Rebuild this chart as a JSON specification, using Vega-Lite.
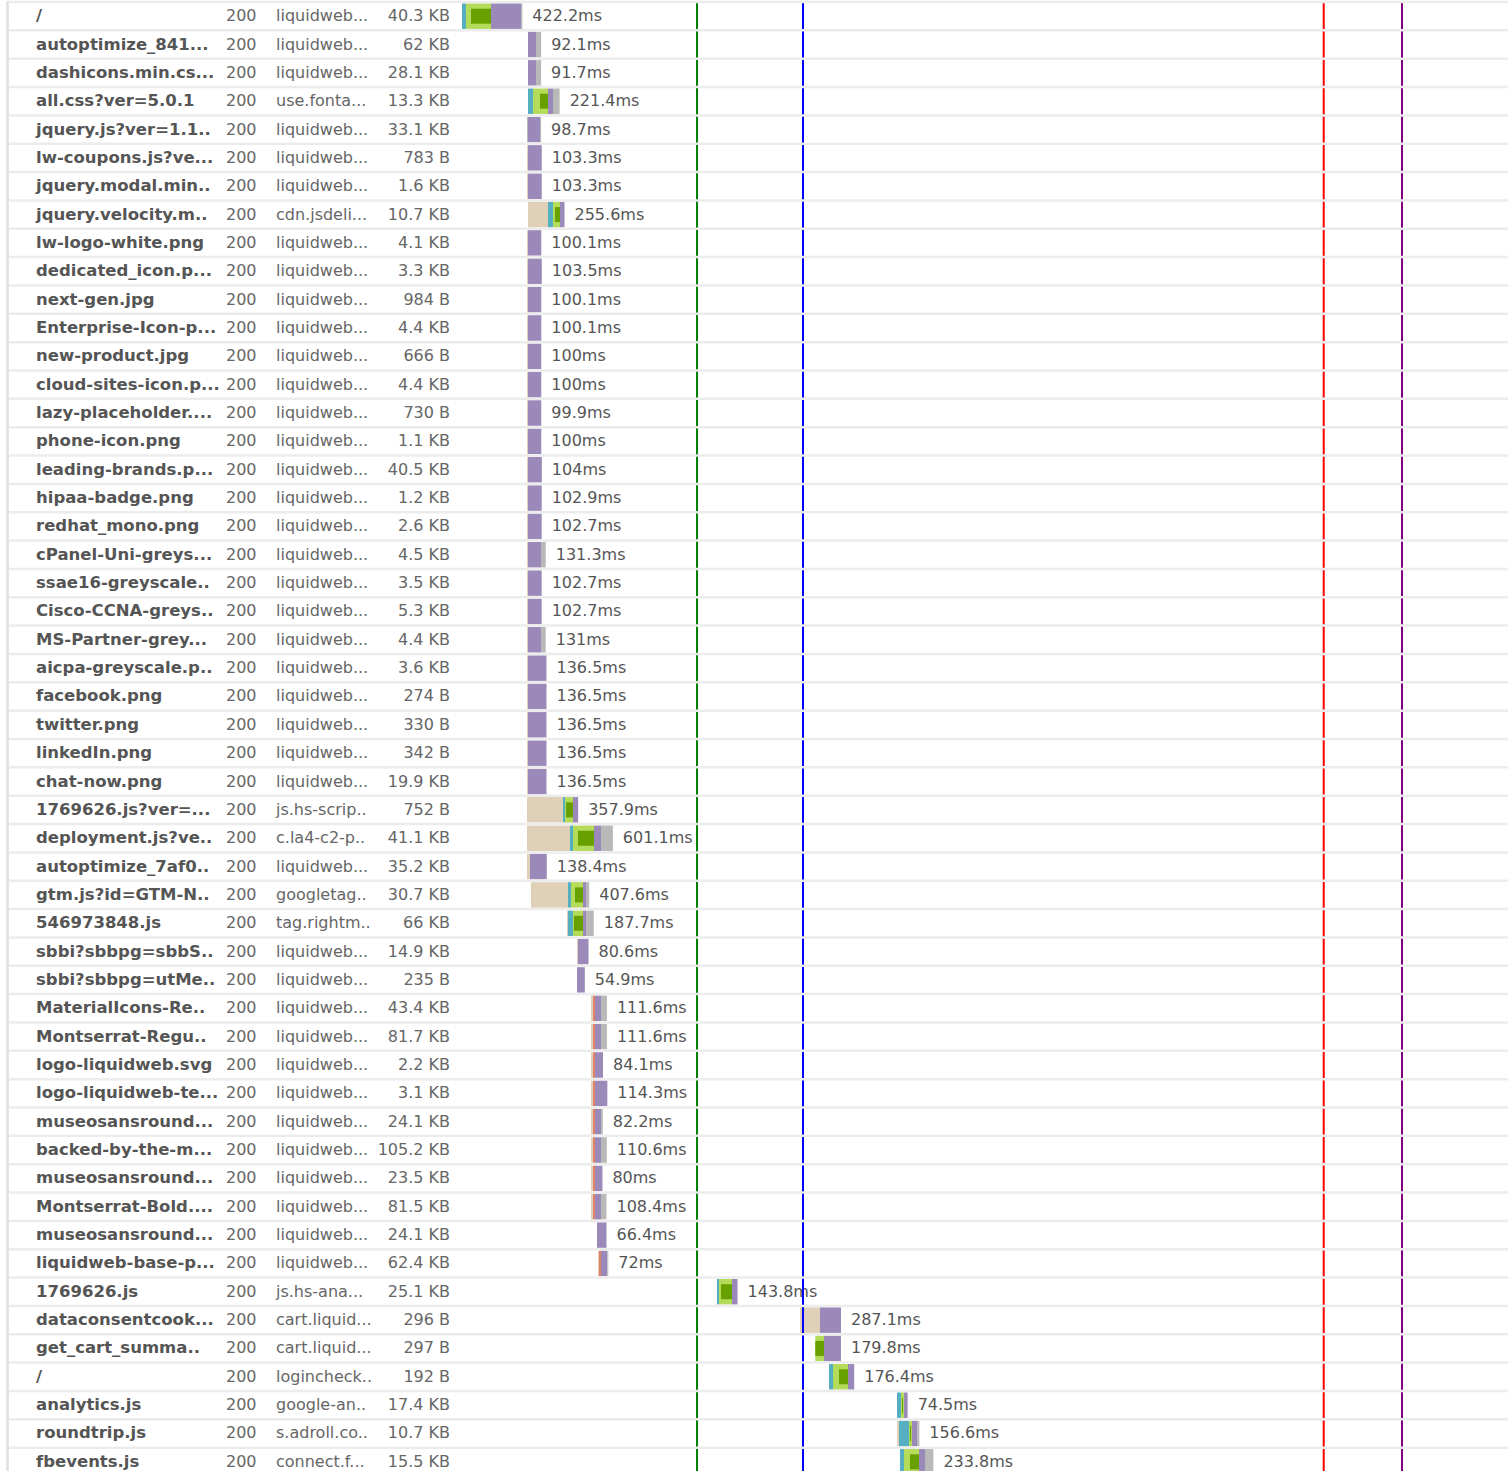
{
  "$schema": "https://vega.github.io/schema/vega-lite/v6.json",
  "padding": {"left": 4, "top": 0, "right": 0, "bottom": 0},
  "background": "white",
  "spacing": 0,
  "bounds": "flush",
  "config": {"view": {"stroke": null}, "text": {"font": "DejaVu Sans"}},
  "datasets": {
    "requests": [
      {"row":1,"name":"/","status":"200","domain":"liquidweb...","size":"40.3 KB","end":422.2,"label":"422.2ms"},
      {"row":2,"name":"autoptimize_841...","status":"200","domain":"liquidweb...","size":"62 KB","end":554.1,"label":"92.1ms"},
      {"row":3,"name":"dashicons.min.cs...","status":"200","domain":"liquidweb...","size":"28.1 KB","end":553.7,"label":"91.7ms"},
      {"row":4,"name":"all.css?ver=5.0.1","status":"200","domain":"use.fonta...","size":"13.3 KB","end":683.4,"label":"221.4ms"},
      {"row":5,"name":"jquery.js?ver=1.1..","status":"200","domain":"liquidweb...","size":"33.1 KB","end":553.7,"label":"98.7ms"},
      {"row":6,"name":"lw-coupons.js?ve...","status":"200","domain":"liquidweb...","size":"783 B","end":558.3,"label":"103.3ms"},
      {"row":7,"name":"jquery.modal.min..","status":"200","domain":"liquidweb...","size":"1.6 KB","end":558.3,"label":"103.3ms"},
      {"row":8,"name":"jquery.velocity.m..","status":"200","domain":"cdn.jsdeli...","size":"10.7 KB","end":717.6,"label":"255.6ms"},
      {"row":9,"name":"lw-logo-white.png","status":"200","domain":"liquidweb...","size":"4.1 KB","end":555.1,"label":"100.1ms"},
      {"row":10,"name":"dedicated_icon.p...","status":"200","domain":"liquidweb...","size":"3.3 KB","end":558.5,"label":"103.5ms"},
      {"row":11,"name":"next-gen.jpg","status":"200","domain":"liquidweb...","size":"984 B","end":555.1,"label":"100.1ms"},
      {"row":12,"name":"Enterprise-Icon-p...","status":"200","domain":"liquidweb...","size":"4.4 KB","end":555.1,"label":"100.1ms"},
      {"row":13,"name":"new-product.jpg","status":"200","domain":"liquidweb...","size":"666 B","end":555,"label":"100ms"},
      {"row":14,"name":"cloud-sites-icon.p...","status":"200","domain":"liquidweb...","size":"4.4 KB","end":555,"label":"100ms"},
      {"row":15,"name":"lazy-placeholder....","status":"200","domain":"liquidweb...","size":"730 B","end":554.9,"label":"99.9ms"},
      {"row":16,"name":"phone-icon.png","status":"200","domain":"liquidweb...","size":"1.1 KB","end":555,"label":"100ms"},
      {"row":17,"name":"leading-brands.p...","status":"200","domain":"liquidweb...","size":"40.5 KB","end":559,"label":"104ms"},
      {"row":18,"name":"hipaa-badge.png","status":"200","domain":"liquidweb...","size":"1.2 KB","end":557.9,"label":"102.9ms"},
      {"row":19,"name":"redhat_mono.png","status":"200","domain":"liquidweb...","size":"2.6 KB","end":557.7,"label":"102.7ms"},
      {"row":20,"name":"cPanel-Uni-greys...","status":"200","domain":"liquidweb...","size":"4.5 KB","end":586.3,"label":"131.3ms"},
      {"row":21,"name":"ssae16-greyscale..","status":"200","domain":"liquidweb...","size":"3.5 KB","end":557.7,"label":"102.7ms"},
      {"row":22,"name":"Cisco-CCNA-greys..","status":"200","domain":"liquidweb...","size":"5.3 KB","end":557.7,"label":"102.7ms"},
      {"row":23,"name":"MS-Partner-grey...","status":"200","domain":"liquidweb...","size":"4.4 KB","end":586,"label":"131ms"},
      {"row":24,"name":"aicpa-greyscale.p..","status":"200","domain":"liquidweb...","size":"3.6 KB","end":591.5,"label":"136.5ms"},
      {"row":25,"name":"facebook.png","status":"200","domain":"liquidweb...","size":"274 B","end":591.5,"label":"136.5ms"},
      {"row":26,"name":"twitter.png","status":"200","domain":"liquidweb...","size":"330 B","end":591.5,"label":"136.5ms"},
      {"row":27,"name":"linkedIn.png","status":"200","domain":"liquidweb...","size":"342 B","end":591.5,"label":"136.5ms"},
      {"row":28,"name":"chat-now.png","status":"200","domain":"liquidweb...","size":"19.9 KB","end":591.5,"label":"136.5ms"},
      {"row":29,"name":"1769626.js?ver=...","status":"200","domain":"js.hs-scrip..","size":"752 B","end":812.9,"label":"357.9ms"},
      {"row":30,"name":"deployment.js?ve..","status":"200","domain":"c.la4-c2-p..","size":"41.1 KB","end":1056.1,"label":"601.1ms"},
      {"row":31,"name":"autoptimize_7af0..","status":"200","domain":"liquidweb...","size":"35.2 KB","end":593.4,"label":"138.4ms"},
      {"row":32,"name":"gtm.js?id=GTM-N..","status":"200","domain":"googletag..","size":"30.7 KB","end":890.6,"label":"407.6ms"},
      {"row":33,"name":"546973848.js","status":"200","domain":"tag.rightm..","size":"66 KB","end":922.7,"label":"187.7ms"},
      {"row":34,"name":"sbbi?sbbpg=sbbS..","status":"200","domain":"liquidweb...","size":"14.9 KB","end":885.6,"label":"80.6ms"},
      {"row":35,"name":"sbbi?sbbpg=utMe..","status":"200","domain":"liquidweb...","size":"235 B","end":859.9,"label":"54.9ms"},
      {"row":36,"name":"MaterialIcons-Re..","status":"200","domain":"liquidweb...","size":"43.4 KB","end":1014.6,"label":"111.6ms"},
      {"row":37,"name":"Montserrat-Regu..","status":"200","domain":"liquidweb...","size":"81.7 KB","end":1014.6,"label":"111.6ms"},
      {"row":38,"name":"logo-liquidweb.svg","status":"200","domain":"liquidweb...","size":"2.2 KB","end":987.1,"label":"84.1ms"},
      {"row":39,"name":"logo-liquidweb-te...","status":"200","domain":"liquidweb...","size":"3.1 KB","end":1017.3,"label":"114.3ms"},
      {"row":40,"name":"museosansround...","status":"200","domain":"liquidweb...","size":"24.1 KB","end":985.2,"label":"82.2ms"},
      {"row":41,"name":"backed-by-the-m...","status":"200","domain":"liquidweb...","size":"105.2 KB","end":1013.6,"label":"110.6ms"},
      {"row":42,"name":"museosansround...","status":"200","domain":"liquidweb...","size":"23.5 KB","end":983,"label":"80ms"},
      {"row":43,"name":"Montserrat-Bold....","status":"200","domain":"liquidweb...","size":"81.5 KB","end":1011.4,"label":"108.4ms"},
      {"row":44,"name":"museosansround...","status":"200","domain":"liquidweb...","size":"24.1 KB","end":1011.4,"label":"66.4ms"},
      {"row":45,"name":"liquidweb-base-p...","status":"200","domain":"liquidweb...","size":"62.4 KB","end":1024,"label":"72ms"},
      {"row":46,"name":"1769626.js","status":"200","domain":"js.hs-ana...","size":"25.1 KB","end":1928.8,"label":"143.8ms"},
      {"row":47,"name":"dataconsentcook...","status":"200","domain":"cart.liquid...","size":"296 B","end":2653.1,"label":"287.1ms"},
      {"row":48,"name":"get_cart_summa..","status":"200","domain":"cart.liquid...","size":"297 B","end":2652.8,"label":"179.8ms"},
      {"row":49,"name":"/","status":"200","domain":"logincheck..","size":"192 B","end":2745.4,"label":"176.4ms"},
      {"row":50,"name":"analytics.js","status":"200","domain":"google-an..","size":"17.4 KB","end":3119.5,"label":"74.5ms"},
      {"row":51,"name":"roundtrip.js","status":"200","domain":"s.adroll.co..","size":"10.7 KB","end":3201.6,"label":"156.6ms"},
      {"row":52,"name":"fbevents.js","status":"200","domain":"connect.f...","size":"15.5 KB","end":3299.8,"label":"233.8ms"}
    ],
    "phases": [
      {"row":1,"phase":"dns","t0":0,"t1":28},{"row":1,"phase":"connect","t0":28,"t1":203},{"row":1,"phase":"ssl","t0":63,"t1":203},{"row":1,"phase":"wait","t0":203,"t1":413},{"row":1,"phase":"receive","t0":413,"t1":422.2},
      {"row":2,"phase":"wait","t0":462,"t1":518},{"row":2,"phase":"receive","t0":518,"t1":554.1},
      {"row":3,"phase":"wait","t0":462,"t1":518},{"row":3,"phase":"receive","t0":518,"t1":553.7},
      {"row":4,"phase":"dns","t0":462,"t1":497},{"row":4,"phase":"connect","t0":497,"t1":602},{"row":4,"phase":"ssl","t0":546,"t1":602},{"row":4,"phase":"wait","t0":602,"t1":637},{"row":4,"phase":"receive","t0":637,"t1":683.4},
      {"row":5,"phase":"receive","t0":455,"t1":462},{"row":5,"phase":"wait","t0":462,"t1":546},{"row":5,"phase":"receive","t0":546,"t1":553.7},
      {"row":6,"phase":"blocking","t0":455,"t1":462},{"row":6,"phase":"wait","t0":462,"t1":558.3},
      {"row":7,"phase":"blocking","t0":455,"t1":462},{"row":7,"phase":"wait","t0":462,"t1":558.3},
      {"row":8,"phase":"blocking","t0":462,"t1":602},{"row":8,"phase":"dns","t0":602,"t1":637},{"row":8,"phase":"connect","t0":637,"t1":686},{"row":8,"phase":"ssl","t0":651,"t1":686},{"row":8,"phase":"wait","t0":686,"t1":717.6},
      {"row":9,"phase":"blocking","t0":455,"t1":462},{"row":9,"phase":"wait","t0":462,"t1":555.1},
      {"row":10,"phase":"blocking","t0":455,"t1":462},{"row":10,"phase":"wait","t0":462,"t1":558.5},
      {"row":11,"phase":"blocking","t0":455,"t1":462},{"row":11,"phase":"wait","t0":462,"t1":555.1},
      {"row":12,"phase":"blocking","t0":455,"t1":462},{"row":12,"phase":"wait","t0":462,"t1":555.1},
      {"row":13,"phase":"blocking","t0":455,"t1":462},{"row":13,"phase":"wait","t0":462,"t1":555},
      {"row":14,"phase":"blocking","t0":455,"t1":462},{"row":14,"phase":"wait","t0":462,"t1":555},
      {"row":15,"phase":"blocking","t0":455,"t1":462},{"row":15,"phase":"wait","t0":462,"t1":554.9},
      {"row":16,"phase":"blocking","t0":455,"t1":462},{"row":16,"phase":"wait","t0":462,"t1":555},
      {"row":17,"phase":"blocking","t0":455,"t1":462},{"row":17,"phase":"wait","t0":462,"t1":559},
      {"row":18,"phase":"blocking","t0":455,"t1":462},{"row":18,"phase":"wait","t0":462,"t1":557.9},
      {"row":19,"phase":"blocking","t0":455,"t1":462},{"row":19,"phase":"wait","t0":462,"t1":557.7},
      {"row":20,"phase":"blocking","t0":455,"t1":462},{"row":20,"phase":"wait","t0":462,"t1":553},{"row":20,"phase":"receive","t0":553,"t1":586.3},
      {"row":21,"phase":"blocking","t0":455,"t1":462},{"row":21,"phase":"wait","t0":462,"t1":557.7},
      {"row":22,"phase":"blocking","t0":455,"t1":462},{"row":22,"phase":"wait","t0":462,"t1":557.7},
      {"row":23,"phase":"blocking","t0":455,"t1":462},{"row":23,"phase":"wait","t0":462,"t1":553},{"row":23,"phase":"receive","t0":553,"t1":586},
      {"row":24,"phase":"blocking","t0":455,"t1":462},{"row":24,"phase":"wait","t0":462,"t1":591.5},
      {"row":25,"phase":"blocking","t0":455,"t1":462},{"row":25,"phase":"wait","t0":462,"t1":591.5},
      {"row":26,"phase":"blocking","t0":455,"t1":462},{"row":26,"phase":"wait","t0":462,"t1":591.5},
      {"row":27,"phase":"blocking","t0":455,"t1":462},{"row":27,"phase":"wait","t0":462,"t1":591.5},
      {"row":28,"phase":"blocking","t0":455,"t1":462},{"row":28,"phase":"wait","t0":462,"t1":591.5},
      {"row":29,"phase":"blocking","t0":455,"t1":707},{"row":29,"phase":"dns","t0":707,"t1":721},{"row":29,"phase":"connect","t0":721,"t1":777},{"row":29,"phase":"ssl","t0":728,"t1":777},{"row":29,"phase":"wait","t0":777,"t1":812.9},
      {"row":30,"phase":"blocking","t0":455,"t1":756},{"row":30,"phase":"dns","t0":756,"t1":777},{"row":30,"phase":"connect","t0":777,"t1":924},{"row":30,"phase":"ssl","t0":812,"t1":924},{"row":30,"phase":"wait","t0":924,"t1":973},{"row":30,"phase":"receive","t0":973,"t1":1056.1},
      {"row":31,"phase":"blocking","t0":455,"t1":476},{"row":31,"phase":"wait","t0":476,"t1":593.4},
      {"row":32,"phase":"blocking","t0":483,"t1":742},{"row":32,"phase":"dns","t0":742,"t1":763},{"row":32,"phase":"connect","t0":763,"t1":847},{"row":32,"phase":"ssl","t0":791,"t1":847},{"row":32,"phase":"wait","t0":847,"t1":868},{"row":32,"phase":"receive","t0":868,"t1":890.6},
      {"row":33,"phase":"blocking","t0":735,"t1":742},{"row":33,"phase":"dns","t0":742,"t1":777},{"row":33,"phase":"connect","t0":777,"t1":847},{"row":33,"phase":"ssl","t0":784,"t1":847},{"row":33,"phase":"wait","t0":847,"t1":868},{"row":33,"phase":"receive","t0":868,"t1":922.7},
      {"row":34,"phase":"blocking","t0":805,"t1":812},{"row":34,"phase":"wait","t0":812,"t1":885.6},
      {"row":35,"phase":"wait","t0":805,"t1":859.9},
      {"row":36,"phase":"blocking","t0":903,"t1":917},{"row":36,"phase":"send","t0":917,"t1":931},{"row":36,"phase":"wait","t0":931,"t1":973},{"row":36,"phase":"receive","t0":973,"t1":1014.6},
      {"row":37,"phase":"blocking","t0":903,"t1":917},{"row":37,"phase":"send","t0":917,"t1":931},{"row":37,"phase":"wait","t0":931,"t1":973},{"row":37,"phase":"receive","t0":973,"t1":1014.6},
      {"row":38,"phase":"blocking","t0":903,"t1":917},{"row":38,"phase":"send","t0":917,"t1":931},{"row":38,"phase":"wait","t0":931,"t1":987.1},
      {"row":39,"phase":"blocking","t0":903,"t1":917},{"row":39,"phase":"send","t0":917,"t1":931},{"row":39,"phase":"wait","t0":931,"t1":1017.3},
      {"row":40,"phase":"blocking","t0":903,"t1":917},{"row":40,"phase":"send","t0":917,"t1":931},{"row":40,"phase":"wait","t0":931,"t1":973},{"row":40,"phase":"receive","t0":973,"t1":985.2},
      {"row":41,"phase":"blocking","t0":903,"t1":917},{"row":41,"phase":"send","t0":917,"t1":931},{"row":41,"phase":"wait","t0":931,"t1":973},{"row":41,"phase":"receive","t0":973,"t1":1013.6},
      {"row":42,"phase":"blocking","t0":903,"t1":917},{"row":42,"phase":"send","t0":917,"t1":931},{"row":42,"phase":"wait","t0":931,"t1":983},
      {"row":43,"phase":"blocking","t0":903,"t1":917},{"row":43,"phase":"send","t0":917,"t1":931},{"row":43,"phase":"wait","t0":931,"t1":973},{"row":43,"phase":"receive","t0":973,"t1":1011.4},
      {"row":44,"phase":"wait","t0":945,"t1":1011.4},
      {"row":45,"phase":"blocking","t0":952,"t1":959},{"row":45,"phase":"send","t0":959,"t1":973},{"row":45,"phase":"wait","t0":973,"t1":1017},{"row":45,"phase":"receive","t0":1017,"t1":1024},
      {"row":46,"phase":"dns","t0":1785,"t1":1799},{"row":46,"phase":"connect","t0":1799,"t1":1890},{"row":46,"phase":"ssl","t0":1813,"t1":1890},{"row":46,"phase":"wait","t0":1890,"t1":1928.8},
      {"row":47,"phase":"blocking","t0":2366,"t1":2506},{"row":47,"phase":"wait","t0":2506,"t1":2653.1},
      {"row":48,"phase":"connect","t0":2473,"t1":2534},{"row":48,"phase":"ssl","t0":2473,"t1":2534},{"row":48,"phase":"wait","t0":2534,"t1":2652.8},
      {"row":49,"phase":"dns","t0":2569,"t1":2597},{"row":49,"phase":"connect","t0":2597,"t1":2702},{"row":49,"phase":"ssl","t0":2639,"t1":2702},{"row":49,"phase":"wait","t0":2702,"t1":2745.4},
      {"row":50,"phase":"dns","t0":3045,"t1":3073},{"row":50,"phase":"connect","t0":3073,"t1":3094},{"row":50,"phase":"ssl","t0":3080,"t1":3087},{"row":50,"phase":"wait","t0":3094,"t1":3119.5},
      {"row":51,"phase":"blocking","t0":3045,"t1":3059},{"row":51,"phase":"dns","t0":3059,"t1":3129},{"row":51,"phase":"connect","t0":3129,"t1":3150},{"row":51,"phase":"ssl","t0":3136,"t1":3143},{"row":51,"phase":"wait","t0":3150,"t1":3185},{"row":51,"phase":"receive","t0":3185,"t1":3201.6},
      {"row":52,"phase":"dns","t0":3066,"t1":3094},{"row":52,"phase":"connect","t0":3094,"t1":3199},{"row":52,"phase":"ssl","t0":3136,"t1":3199},{"row":52,"phase":"wait","t0":3199,"t1":3241},{"row":52,"phase":"receive","t0":3241,"t1":3299.8}
    ],
    "events": [
      {"event":"First Paint","t":1645},
      {"event":"DOM Loaded","t":2387},
      {"event":"Onload","t":6032},
      {"event":"Fully Loaded","t":6580}
    ]
  },
  "hconcat": [
    {
      "width": 456,
      "height": 1474,
      "data": {"name": "requests"},
      "encoding": {
        "y": {"field": "row", "type": "ordinal", "axis": null, "scale": {"paddingInner": 0, "paddingOuter": 0}}
      },
      "layer": [
        {
          "mark": {"type": "rule", "color": "#ececec", "strokeWidth": 2.5},
          "encoding": {"y": {"field": "row", "type": "ordinal", "bandPosition": 0, "axis": null}}
        },
        {
          "mark": {"type": "rule", "color": "#e2e2e2", "strokeWidth": 1.5},
          "encoding": {"x": {"datum": 1.5, "type": "quantitative", "scale": {"domain": [0, 456], "nice": false, "zero": false}, "axis": null}, "y": null}
        },
        {
          "mark": {"type": "text", "align": "left", "baseline": "middle", "fontSize": 16.5, "fontWeight": "bold", "color": "#555555"},
          "encoding": {"x": {"datum": 30, "type": "quantitative"}, "text": {"field": "name"}}
        },
        {
          "mark": {"type": "text", "align": "left", "baseline": "middle", "fontSize": 16, "color": "#666666"},
          "encoding": {"x": {"datum": 220, "type": "quantitative"}, "text": {"field": "status"}}
        },
        {
          "mark": {"type": "text", "align": "left", "baseline": "middle", "fontSize": 16, "color": "#666666"},
          "encoding": {"x": {"datum": 270, "type": "quantitative"}, "text": {"field": "domain"}}
        },
        {
          "mark": {"type": "text", "align": "right", "baseline": "middle", "fontSize": 16, "color": "#666666"},
          "encoding": {"x": {"datum": 444, "type": "quantitative"}, "text": {"field": "size"}}
        }
      ]
    },
    {
      "width": 1046,
      "height": 1474,
      "layer": [
        {
          "data": {"name": "phases"},
          "transform": [{"filter": "datum.phase !== 'ssl'"}],
          "mark": {"type": "bar", "size": 25.5},
          "encoding": {
            "x": {"field": "t0", "type": "quantitative", "scale": {"domain": [0, 7322], "nice": false, "zero": false}, "axis": null},
            "x2": {"field": "t1"},
            "y": {"field": "row", "type": "ordinal", "axis": null, "scale": {"paddingInner": 0, "paddingOuter": 0}},
            "color": {"field": "phase", "type": "nominal", "legend": null,
              "scale": {"domain": ["blocking", "dns", "connect", "ssl", "send", "wait", "receive"],
                        "range": ["#e0d0b8", "#56afc0", "#b4dc5a", "#68a000", "#e0826a", "#9b89b9", "#b9b9b9"]}}
          }
        },
        {
          "data": {"name": "phases"},
          "transform": [{"filter": "datum.phase === 'ssl'"}],
          "mark": {"type": "bar", "size": 15},
          "encoding": {
            "x": {"field": "t0", "type": "quantitative"},
            "x2": {"field": "t1"},
            "y": {"field": "row", "type": "ordinal"},
            "color": {"field": "phase", "type": "nominal", "legend": null}
          }
        },
        {
          "data": {"name": "requests"},
          "mark": {"type": "text", "align": "left", "baseline": "middle", "fontSize": 16, "dx": 10, "color": "#555555"},
          "encoding": {
            "x": {"field": "end", "type": "quantitative"},
            "y": {"field": "row", "type": "ordinal"},
            "text": {"field": "label"}
          }
        },
        {
          "data": {"name": "events"},
          "mark": {"type": "rule", "strokeWidth": 2},
          "encoding": {
            "x": {"field": "t", "type": "quantitative"},
            "stroke": {"field": "event", "type": "nominal", "legend": null,
              "scale": {"domain": ["First Paint", "DOM Loaded", "Onload", "Fully Loaded"], "range": ["#008000", "#0000ff", "#ff0000", "#800080"]}}
          }
        },
        {
          "data": {"name": "requests"},
          "mark": {"type": "rule", "color": "#ececec", "strokeWidth": 2.5},
          "encoding": {"y": {"field": "row", "type": "ordinal", "bandPosition": 0}}
        }
      ]
    }
  ]
}
